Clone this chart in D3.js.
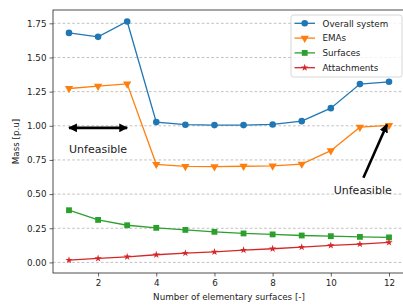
<!DOCTYPE html>
<html>
<head>
<meta charset="utf-8">
<script src="https://cdn.jsdelivr.net/npm/d3@7"></script>
<style>
  body { margin: 0; background: #fff; }
  text { font-family: "DejaVu Sans", sans-serif; fill: #222; }
</style>
</head>
<body>
<svg width="403" height="305" id="mainsvg"></svg>
<script>
// data
const surfaces = [1, 2, 3, 4, 5, 6, 7, 8, 9, 10, 11, 12];
const overall = [1.680, 1.651, 1.763, 1.027, 1.008, 1.005, 1.005, 1.010, 1.034, 1.129, 1.305, 1.322];
const emas = [1.273, 1.290, 1.307, 0.718, 0.703, 0.701, 0.704, 0.706, 0.720, 0.818, 0.990, 1.003];
const surfaceMass = [0.382, 0.311, 0.272, 0.253, 0.238, 0.224, 0.212, 0.205, 0.197, 0.192, 0.187, 0.183];
const attachments = [0.017, 0.029, 0.041, 0.056, 0.068, 0.077, 0.090, 0.100, 0.112, 0.124, 0.134, 0.146];
const seriesNames = ['Overall system', 'EMAs', 'Surfaces', 'Attachments'];
const xTicks = [2, 4, 6, 8, 10, 12];
const yTicks = [0, 0.25, 0.5, 0.75, 1.0, 1.25, 1.5, 1.75];

const colors = ['#1f77b4', '#ff7f0e', '#2ca02c', '#d62728'];
const symbols = [d3.symbolCircle, d3.symbolTriangle, d3.symbolSquare, d3.symbolStar];
const symSize = [34, 30, 34, 17];
const symRot = [0, 180, 0, 0];
const allSeries = [overall, emas, surfaceMass, attachments];

const svg = d3.select('svg');
const margin = { top: 10, right: -2, bottom: 32, left: 53 };
const width = +svg.attr('width'), height = +svg.attr('height');
const x = d3.scaleLinear().domain([0.45, 12.55]).range([margin.left, width - margin.right]);
const y = d3.scaleLinear().domain([-0.0775, 1.8475]).range([height - margin.bottom, margin.top]);

// grid
svg.append('g').selectAll('line').data(yTicks).join('line')
  .attr('x1', x.range()[0]).attr('x2', x.range()[1])
  .attr('y1', d => y(d)).attr('y2', d => y(d))
  .attr('stroke', '#b0b0b0').attr('stroke-width', 0.8)
  .attr('stroke-dasharray', '2.6,2.2');

// axes
const xAxis = svg.append('g').attr('transform', `translate(0,${y.range()[0]})`)
  .call(d3.axisBottom(x).tickValues(xTicks).tickFormat(d3.format('d')).tickSize(3.5).tickPadding(3));
const yAxis = svg.append('g').attr('transform', `translate(${margin.left},0)`)
  .call(d3.axisLeft(y).tickValues(yTicks).tickFormat(d3.format('.2f')).tickSize(3.5).tickPadding(3));
[xAxis, yAxis].forEach(a => {
  a.selectAll('text').style('font-size', '8.75px').attr('fill', '#222');
  a.selectAll('line').attr('stroke', '#222').attr('stroke-width', 0.7);
  a.select('.domain').remove();
});
// spines
svg.append('rect')
  .attr('x', x.range()[0]).attr('y', y.range()[1])
  .attr('width', x.range()[1] - x.range()[0]).attr('height', y.range()[0] - y.range()[1])
  .attr('fill', 'none').attr('stroke', '#222').attr('stroke-width', 0.8);

// lines and markers
const line = d3.line().x((d, i) => x(surfaces[i])).y(d => y(d));
allSeries.forEach((s, k) => {
  svg.append('path').datum(s).attr('d', line)
    .attr('fill', 'none').attr('stroke', colors[k]).attr('stroke-width', 1.3);
  svg.append('g').selectAll('path').data(s).join('path')
    .attr('d', d3.symbol().type(symbols[k]).size(symSize[k]))
    .attr('transform', (d, i) => `translate(${x(surfaces[i])},${y(d)}) rotate(${symRot[k]})`)
    .attr('fill', colors[k]);
});

// annotations
const defs = svg.append('defs');
defs.append('marker').attr('id', 'head').attr('viewBox', '0 0 10 10')
  .attr('refX', 9).attr('refY', 5).attr('markerWidth', 3.4).attr('markerHeight', 3.4)
  .attr('markerUnits', 'strokeWidth').attr('orient', 'auto-start-reverse')
  .append('path').attr('d', 'M0,0 L10,5 L0,10 Z').attr('fill', '#000');

svg.append('line')
  .attr('x1', x(1)).attr('y1', y(0.985)).attr('x2', x(3)).attr('y2', y(0.985))
  .attr('stroke', '#000').attr('stroke-width', 2.6)
  .attr('marker-start', 'url(#head)').attr('marker-end', 'url(#head)');
svg.append('text').attr('x', x(1)).attr('y', y(0.8))
  .style('font-size', '11px').text('Unfeasible');

svg.append('line')
  .attr('x1', x(11.12)).attr('y1', y(0.62)).attr('x2', x(11.93)).attr('y2', y(1.01))
  .attr('stroke', '#000').attr('stroke-width', 2.6)
  .attr('marker-end', 'url(#head)');
svg.append('text').attr('x', x(10.1)).attr('y', y(0.5))
  .style('font-size', '11px').text('Unfeasible');

// axis labels
svg.append('text').attr('x', (x.range()[0] + x.range()[1]) / 2).attr('y', 299.5)
  .attr('text-anchor', 'middle').style('font-size', '8.75px')
  .text('Number of elementary surfaces [-]');
svg.append('text')
  .attr('transform', `translate(18.5,${(y.range()[0] + y.range()[1]) / 2}) rotate(-90)`)
  .attr('text-anchor', 'middle').style('font-size', '8.75px').text('Mass [p.u]');

// legend
const lg = svg.append('g').attr('transform', 'translate(291,15)');
lg.append('rect').attr('width', 111).attr('height', 62).attr('rx', 2.5)
  .attr('fill', 'rgba(255,255,255,0.8)').attr('stroke', '#cccccc').attr('stroke-width', 0.8);
seriesNames.forEach((name, k) => {
  const row = lg.append('g').attr('transform', `translate(0,${8.3 + k * 14.8})`);
  row.append('line').attr('x1', 3.5).attr('x2', 24).attr('stroke', colors[k]).attr('stroke-width', 1.3);
  row.append('path').attr('d', d3.symbol().type(symbols[k]).size(symSize[k]))
    .attr('transform', `translate(13.7,0) rotate(${symRot[k]})`).attr('fill', colors[k]);
  row.append('text').attr('x', 31.5).attr('y', 3.2).style('font-size', '8.75px').text(name);
});
</script>
</body>
</html>
